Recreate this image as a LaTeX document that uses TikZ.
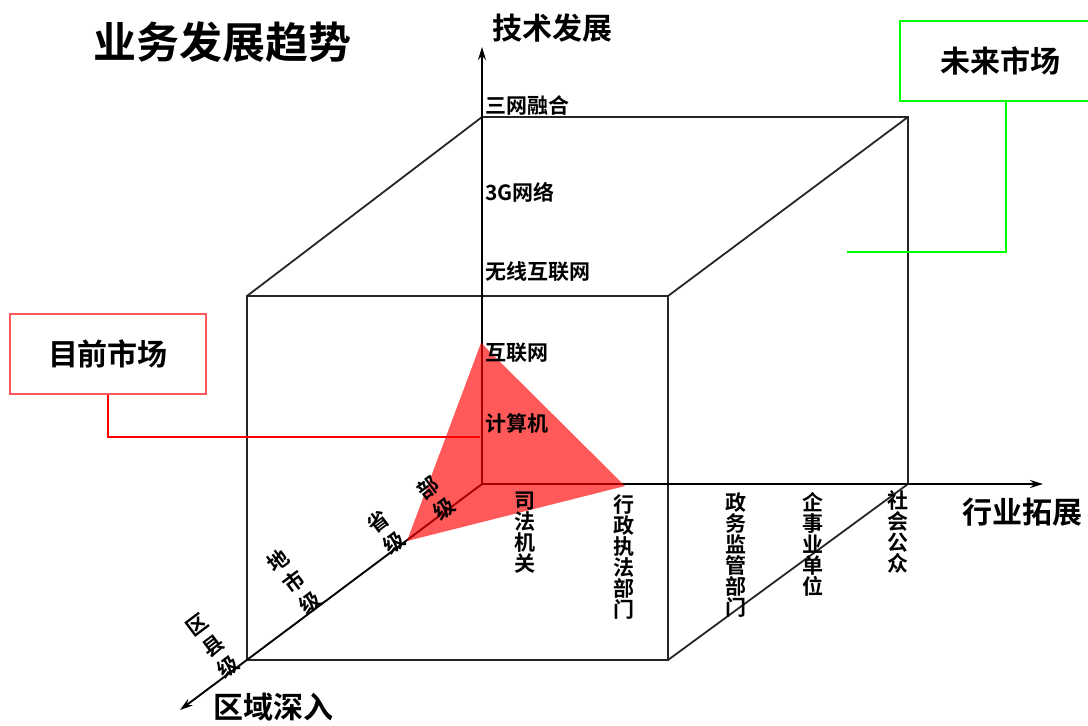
\documentclass[tikz,border=0pt]{standalone}
\usepackage{fontspec}
\setmainfont{Noto Sans CJK SC}[BoldFont={Noto Sans CJK SC Bold}]
\usetikzlibrary{arrows.meta,positioning}

\begin{document}
\begin{tikzpicture}[x=1pt, y=-1pt,
    edge/.style={draw=black!85, line width=1.8pt},
    axis/.style={-{Stealth[length=13pt,width=8pt]}, line width=1.9pt},
    axislabel/.style={font=\bfseries\fontsize{30}{30}\selectfont, inner sep=0pt},
    tick/.style={font=\bfseries\fontsize{21}{21}\selectfont, inner sep=0pt, align=center},
    slant/.style={tick, rotate=37, font=\bfseries\fontsize{21}{26}\selectfont},
    market/.style={draw, line width=1.4pt, minimum height=80pt, inner sep=0pt, font=\bfseries\fontsize{30}{30}\selectfont}
]
\useasboundingbox (0,0) rectangle (1088,726);

% cube corners
\coordinate (O) at (482,484);
\coordinate (backTL) at (482,117);
\coordinate (backTR) at (908,117);
\coordinate (backBR) at (908,484);
\coordinate (frontTL) at (247,296);
\coordinate (frontTR) at (668,296);
\coordinate (frontBR) at (668,660);
\coordinate (frontBL) at (247,660);

% axis tips
\coordinate (techTip) at (482,47);
\coordinate (tradeTip) at (1043,484);
\coordinate (areaTip) at (180,710);

% cube
\draw[edge] (frontTL) rectangle (frontBR);
\draw[edge] (frontTL) -- (backTL) -- (backTR) -- (backBR);
\draw[edge] (frontTR) -- (backTR);
\draw[edge] (frontBR) -- (backBR);

% axes
\draw[axis] (O) -- (techTip);
\draw[axis] (O) -- (tradeTip);
\draw[axis] (O) -- (areaTip);

% current market
\coordinate (netTop) at (481,343);
\coordinate (lawTip) at (625,486);
\coordinate (provTip) at (407,541);
\fill[red, fill opacity=0.65] (netTop) -- (lawTip) -- (provTip) -- cycle;

% title and axis names
\node[font=\bfseries\fontsize{43}{43}\selectfont, inner sep=0pt] (title) at (222,42) {业务发展趋势};
\node[axislabel] (tech) at (552,28) {技术发展};
\node[axislabel] (trade) at (1022,512) {行业拓展};
\node[axislabel] (area) at (273,707) {区域深入};

% technology levels
\node[tick, anchor=west] (sanwang) at (485,105) {三网融合};
\node[tick, anchor=west] (g3) at (485,192) {3G网络};
\node[tick, anchor=west] (wireless) at (485,272) {无线互联网};
\node[tick, anchor=west] (internet) at (485,353) {互联网};
\node[tick, anchor=west] (computer) at (485,423) {计算机};

% industry levels
\node[tick, anchor=north] (judicial) at (525,492) {司\\法\\机\\关};
\node[tick, anchor=north] (admin) at (624,494) {行\\政\\执\\法\\部\\门};
\node[tick, anchor=north] (supervise) at (736,492) {政\\务\\监\\管\\部\\门};
\node[tick, anchor=north] (enterprise) at (813,492) {企\\事\\业\\单\\位};
\node[tick, anchor=north] (public) at (898,490) {社\\会\\公\\众};

% region levels
\node[slant] (ministry) at (436,498) {部\\级};
\node[slant] (province) at (386,532) {省\\级};
\node[slant] (city) at (294,582) {地\\市\\级};
\node[slant] (county) at (213,646) {区\\县\\级};

% market callouts
\node[market, draw=red!65, minimum width=196pt] (current) at (108,354) {目前市场};
\coordinate (currentEnd) at (480,437);
\draw[red, line width=1.4pt] (current.south) |- (currentEnd);

\node[market, draw=green, minimum width=200pt] (future) at (1000,61) {未来市场};
\coordinate (futureEnd) at (847,252);
\draw[green, line width=1.4pt] ([xshift=6pt]future.south) |- (futureEnd);

\end{tikzpicture}
\end{document}
